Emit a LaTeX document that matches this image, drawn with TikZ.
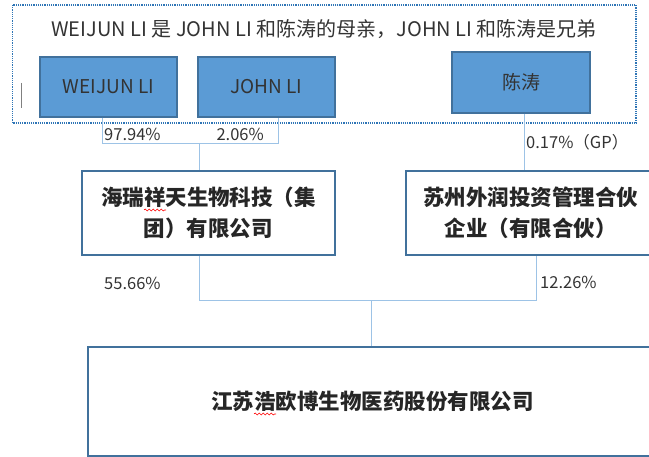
\documentclass[tikz,border=0pt]{standalone}
\usepackage{fontspec}
\setmainfont{Noto Sans CJK SC}
\usepackage{tikz}
\usetikzlibrary{decorations.pathmorphing}
\definecolor{boxblue}{HTML}{5B9BD5}
\definecolor{boxedge}{HTML}{41719C}
\definecolor{linkblue}{HTML}{9DC3E6}
\definecolor{frameblue}{HTML}{2E75B6}
\definecolor{inkgray}{HTML}{333333}

\begin{document}
\begin{tikzpicture}[x=1pt,y=-1pt,
    person/.style={draw=boxedge, line width=1.2pt, fill=boxblue, minimum width=137pt, minimum height=60pt, font=\fontsize{19}{22}\selectfont, text=inkgray},
    firm/.style={draw=boxedge, line width=1.5pt, fill=white, align=center, font=\bfseries\fontsize{21.5}{31}\selectfont, text=black!85},
    link/.style={linkblue, line width=1pt},
    pct/.style={inner sep=0pt, font=\fontsize{16.5}{18}\selectfont, text=inkgray},
    squiggle/.style={red, line width=0.6pt, decorate, decoration={snake, amplitude=1pt, segment length=4pt}}]
    \useasboundingbox (0,0) rectangle (649,457);

    % Familie
    \draw[frameblue, densely dotted, line width=1.2pt] (12.5,5) rectangle (636,123);
    \node[inner sep=0pt, font=\fontsize{20}{22}\selectfont, text=inkgray] (note) at (324,29) {WEIJUN LI 是 JOHN LI 和陈涛的母亲，JOHN LI 和陈涛是兄弟};
    \node[person] (wl) at (108.5,87) {WEIJUN LI};
    \node[person] (jl) at (266.5,87) {JOHN LI};
    \node[person, minimum width=138pt, minimum height=61pt] (ct) at (521,82.5) {陈涛};
    \draw[gray, line width=1pt] (21,83) -- (21,108);

    % Gesellschafter
    \node[firm, minimum width=253pt, minimum height=84pt] (hr) at (208.5,213) {海瑞祥天生物科技（集\\团）有限公司};
    \node[firm, minimum width=249pt, minimum height=84pt] (sz) at (530.5,213) {苏州外润投资管理合伙\\企业（有限合伙）};
    \draw[squiggle] (144,210) -- (166,210);

    % Zielgesellschaft
    \node[firm, minimum width=569pt, minimum height=109pt] (hb) at (372.5,401.5) {江苏浩欧博生物医药股份有限公司};
    \draw[squiggle] (254,414) -- (276,414);

    % Verbindungen oben
    \coordinate (j1) at (199,143);
    \draw[link] ([xshift=-6pt]wl.south) -- ++(0,26) -| ([xshift=11.5pt]jl.south);
    \draw[link] (j1) -- (j1 |- hr.north);
    \draw[link] ([xshift=3pt]ct.south) -- ([xshift=3pt]ct.south |- sz.north);
    \node[pct, anchor=west] (p1) at (104,134) {97.94\%};
    \node[pct, anchor=east] (p2) at (264,134) {2.06\%};
    \node[pct, anchor=west] (p3) at (526,142) {0.17\%（GP）};

    % Verbindungen unten
    \coordinate (j2) at (371,301);
    \draw[link] ([xshift=-9.5pt]hr.south) |- ([xshift=5.5pt]sz.south |- j2) -- ([xshift=5.5pt]sz.south);
    \draw[link] (j2) -- (j2 |- hb.north);
    \node[pct, anchor=west] (p4) at (104,283) {55.66\%};
    \node[pct, anchor=west] (p5) at (540,282) {12.26\%};
\end{tikzpicture}
\end{document}
